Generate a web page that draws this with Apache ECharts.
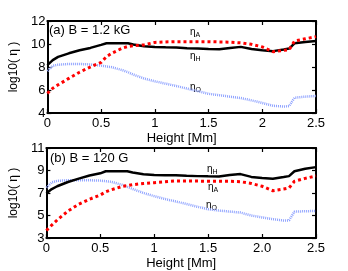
<!DOCTYPE html>
<html><head><meta charset="utf-8">
<script src="https://cdn.jsdelivr.net/npm/echarts@6/dist/echarts.min.js"></script>
<style>html,body{margin:0;padding:0;background:#fff}#c{width:348px;height:271px}</style>
</head><body><div id="c"></div>
<script>
const heights = [0,0.05,0.1,0.2,0.3,0.4,0.5,0.55,0.6,0.7,0.75,0.8,0.9,1.0,1.1,1.2,1.3,1.4,1.5,1.6,1.7,1.8,1.9,2.0,2.1,2.2,2.25,2.3,2.4,2.5];
const topEtaH = [8.17,8.6,8.88,9.19,9.45,9.66,9.92,10.06,10.06,10.06,10.06,9.95,9.8,9.74,9.71,9.70,9.64,9.6,9.56,9.54,9.65,9.75,9.56,9.45,9.38,9.52,9.6,10.06,10.18,10.26];
const topEtaA = [5.71,6.15,6.45,7.01,7.55,8.0,8.4,8.9,9.2,9.65,9.78,9.85,9.92,10.14,10.18,10.2,10.2,10.2,10.2,10.18,10.16,10.1,9.97,9.75,9.33,9.45,9.5,10.26,10.45,10.64];
const topEtaO = [7.65,8.1,8.2,8.26,8.26,8.22,8.12,8.05,7.98,7.72,7.55,7.34,7.0,6.76,6.55,6.35,6.12,5.9,5.67,5.55,5.42,5.3,5.1,4.87,4.63,4.56,4.6,5.33,5.42,5.48];
const botEtaH = [6.97,7.35,7.6,7.98,8.28,8.55,8.75,8.93,8.93,8.93,8.93,8.82,8.66,8.61,8.58,8.58,8.53,8.5,8.48,8.47,8.6,8.68,8.43,8.33,8.27,8.42,8.5,8.93,9.15,9.3];
const botEtaA = [3.67,4.15,4.6,5.4,6.0,6.45,6.82,7.1,7.28,7.58,7.65,7.74,7.85,7.92,8.0,8.07,8.07,8.06,8.04,8.04,8.04,8.0,7.85,7.6,7.2,7.35,7.45,8.04,8.3,8.52];
const botEtaO = [7.47,7.95,8.08,8.13,8.13,8.13,8.1,8.05,8.0,7.73,7.55,7.36,7.0,6.72,6.46,6.25,6.02,5.78,5.56,5.44,5.35,5.26,5.0,4.83,4.67,4.55,4.57,5.34,5.38,5.4];
const topXTicks = ['0','0.5','1','1.5','2','2.5'];
const botXTicks = ['0','0.5','1','1.5','2.0','2.5'];
const topYRange = [4,12];
const botYRange = [3,11];

const FONT = 'Liberation Sans';
const pair = (xs, ys) => xs.map((x,i)=>[x, ys[i]]);
const tickFmt = labels => v => labels[Math.round(v/0.5)];

function xAxes(gi, labels, withName){
  return [
    {type:'value', gridIndex:gi, min:0, max:2.5, interval:0.5, position:'bottom',
     axisLine:{show:true,onZero:false,lineStyle:{color:'#000',width:2}},
     axisTick:{show:true,inside:true,length:4,lineStyle:{color:'#000',width:1.2}},
     axisLabel:{color:'#000',fontFamily:FONT,fontSize:13,margin:4,formatter:tickFmt(labels)},
     splitLine:{show:false},
     name:withName?'Height [Mm]':'', nameLocation:'middle', nameGap:19,
     nameTextStyle:{color:'#000',fontFamily:FONT,fontSize:13}},
    {type:'value', gridIndex:gi, min:0, max:2.5, interval:0.5, position:'top',
     axisLine:{show:true,onZero:false,lineStyle:{color:'#000',width:2}},
     axisTick:{show:true,inside:true,length:4,lineStyle:{color:'#000',width:1.2}},
     axisLabel:{show:false}, splitLine:{show:false}}
  ];
}
function yAxes(gi, range){
  return [
    {type:'value', gridIndex:gi, min:range[0], max:range[1], interval:2, position:'left',
     axisLine:{show:true,onZero:false,lineStyle:{color:'#000',width:2}},
     axisTick:{show:true,inside:true,length:4,lineStyle:{color:'#000',width:1.2}},
     axisLabel:{color:'#000',fontFamily:FONT,fontSize:13,margin:2},
     splitLine:{show:false},
     name:'log10( η )', nameLocation:'middle', nameGap:16, nameRotate:90,
     nameTextStyle:{color:'#000',fontFamily:FONT,fontSize:12}},
    {type:'value', gridIndex:gi, min:range[0], max:range[1], interval:2, position:'right',
     axisLine:{show:true,onZero:false,lineStyle:{color:'#000',width:2}},
     axisTick:{show:true,inside:true,length:4,lineStyle:{color:'#000',width:1.2}},
     axisLabel:{show:false}, splitLine:{show:false}}
  ];
}
const styleH = {color:'#000', width:2.5, type:'solid'};
const styleA = {color:'#ff0000', width:3, type:[3,3], cap:'butt'};
const styleO = {color:'#8ea2ff', width:2.5, type:[1,1], cap:'butt'};
function ser(xi, yi, data, ls, z){
  return {type:'line', xAxisIndex:xi, yAxisIndex:yi, data:data, showSymbol:false, symbol:'none',
          lineStyle:ls, z:z, animation:false};
}
function etaLabel(x, y, sub){
  return {type:'text', left:x, top:y, style:{
    text:'{m|η}{s|'+sub+'}', rich:{m:{fontSize:10,fontFamily:FONT,fill:'#000'},
    s:{fontSize:7,fontFamily:FONT,fill:'#000',padding:[6,0,0,0]}}}};
}

const chart = echarts.init(document.getElementById('c'), null, {renderer:'canvas'});
chart.setOption({
  animation:false,
  grid:[{left:45,right:32,top:21,height:92},{left:45,right:32,top:148,height:93}],
  xAxis:[...xAxes(0, topXTicks, true), ...xAxes(1, botXTicks, true)],
  yAxis:[...yAxes(0, topYRange), ...yAxes(1, botYRange)],
  series:[
    ser(0,0,pair(heights,topEtaO),styleO,1),
    ser(0,0,pair(heights,topEtaH),styleH,2),
    ser(0,0,pair(heights,topEtaA),styleA,3),
    ser(2,2,pair(heights,botEtaO),styleO,1),
    ser(2,2,pair(heights,botEtaH),styleH,2),
    ser(2,2,pair(heights,botEtaA),styleA,3)
  ],
  graphic:[
    {type:'text', left:49, top:24, style:{text:'(a) B = 1.2 kG', fontFamily:FONT, fontSize:13, fill:'#000'}},
    {type:'text', left:50, top:152, style:{text:'(b) B = 120 G', fontFamily:FONT, fontSize:13, fill:'#000'}},
    etaLabel(190, 27, 'A'),
    etaLabel(190, 51, 'H'),
    etaLabel(190, 82, 'O'),
    etaLabel(207, 164, 'H'),
    etaLabel(208, 182, 'A'),
    etaLabel(206, 200, 'O')
  ]
});
</script></body></html>
